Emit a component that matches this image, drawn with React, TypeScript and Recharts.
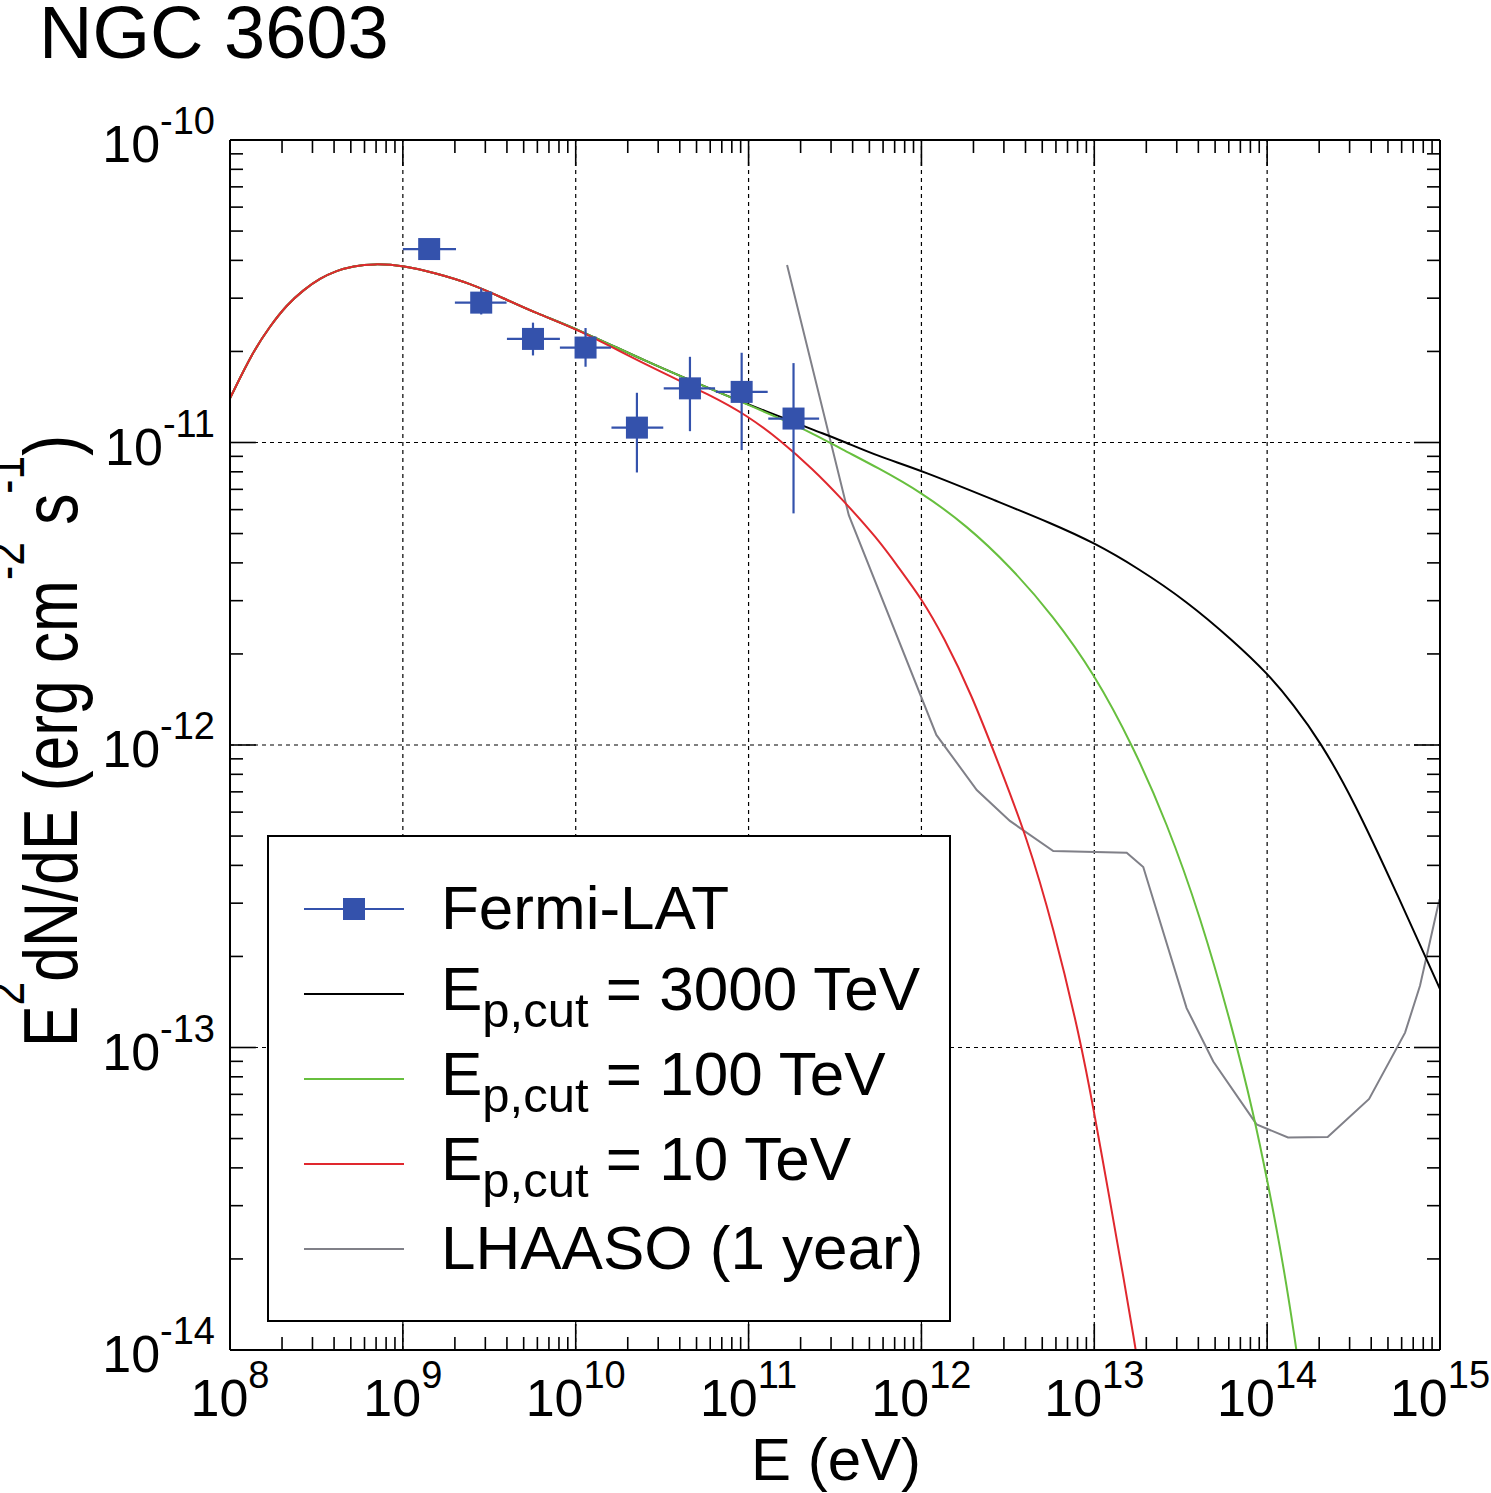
import React from 'react';
import {
  ComposedChart,
  Line,
  Scatter,
  XAxis,
  YAxis,
  ErrorBar,
  ReferenceLine,
  Legend,
} from 'recharts';

const FONT = "'Liberation Sans', Arial, Helvetica, sans-serif";
const BLUE = '#3452AC';
const GREEN = '#67BF3E';
const RED = '#E0282E';
const GRAY = '#808088';

// ---------------- Fermi-LAT points ----------------
const fermiE = [1.42e9, 2.84e9, 5.66e9, 1.14e10, 2.26e10, 4.58e10, 9.12e10, 1.82e11];
const fermiEMin = [1.0e9, 2.0e9, 4.0e9, 8.1e9, 1.61e10, 3.23e10, 6.46e10, 1.3e11];
const fermiEMax = [2.03e9, 3.98e9, 8.1e9, 1.6e10, 3.21e10, 6.4e10, 1.29e11, 2.56e11];
const fermiFlux = [4.36e-11, 2.9e-11, 2.2e-11, 2.06e-11, 1.12e-11, 1.51e-11, 1.47e-11, 1.2e-11];
const fermiFluxMin = [4.15e-11, 2.65e-11, 1.94e-11, 1.78e-11, 7.96e-12, 1.09e-11, 9.44e-12, 5.83e-12];
const fermiFluxMax = [4.55e-11, 3.23e-11, 2.49e-11, 2.39e-11, 1.46e-11, 1.92e-11, 1.98e-11, 1.83e-11];

// ---------------- model curves: shared low-energy part ----------------
const modelLowE = [1.0e8, 1.36e8, 1.7e8, 2.13e8, 2.65e8, 3.32e8, 4.14e8, 5.16e8, 6.75e8, 1.01e9, 1.57e9, 2.44e9, 3.81e9, 5.94e9, 1.01e10];
const modelLowFlux = [1.4e-11, 2.0e-11, 2.42e-11, 2.85e-11, 3.19e-11, 3.49e-11, 3.7e-11, 3.83e-11, 3.9e-11, 3.85e-11, 3.62e-11, 3.36e-11, 3.0e-11, 2.67e-11, 2.38e-11];

// E_p,cut = 3000 TeV
const cut3000E = [2.57e10, 6.25e10, 9.75e10, 1.52e11, 2.37e11, 3.38e11, 5.62e11, 1.0e12, 2.84e12, 5.62e12, 1.0e13, 1.78e13, 3.42e13, 6.37e13, 1.01e14, 1.42e14, 2.02e14, 3.16e14, 5.62e14, 1.0e15];
const cut3000Flux = [1.85e-11, 1.49e-11, 1.34e-11, 1.22e-11, 1.1e-11, 1.02e-11, 9.0e-12, 8.09e-12, 6.34e-12, 5.41e-12, 4.66e-12, 3.85e-12, 2.99e-12, 2.21e-12, 1.72e-12, 1.36e-12, 1.03e-12, 6.58e-13, 3.24e-13, 1.56e-13];

// E_p,cut = 100 TeV
const cut100E = [2.57e10, 6.25e10, 9.75e10, 1.52e11, 2.37e11, 3.38e11, 5.62e11, 1.0e12, 1.83e12, 3.25e12, 5.79e12, 1.0e13, 1.68e13, 2.62e13, 4.09e13, 6.37e13, 8.32e13, 1.01e14, 1.24e14, 1.45e14, 1.51e14];
const cut100Flux = [1.85e-11, 1.49e-11, 1.34e-11, 1.2e-11, 1.07e-11, 9.57e-12, 8.24e-12, 6.84e-12, 5.31e-12, 3.9e-12, 2.67e-12, 1.72e-12, 9.89e-13, 5.56e-13, 2.74e-13, 1.13e-13, 6.08e-14, 3.57e-14, 1.92e-14, 1.08e-14, 9.1e-15];

// E_p,cut = 10 TeV
const cut10E = [2.57e10, 6.25e10, 9.75e10, 1.52e11, 2.37e11, 3.38e11, 5.62e11, 7.52e11, 1.0e12, 1.34e12, 1.95e12, 2.84e12, 4.06e12, 5.79e12, 8.26e12, 1.0e13, 1.23e13, 1.47e13, 1.72e13, 1.78e13];
const cut10Flux = [1.8e-11, 1.42e-11, 1.23e-11, 1.02e-11, 8.13e-12, 6.61e-12, 4.79e-12, 3.8e-12, 3.05e-12, 2.29e-12, 1.47e-12, 8.47e-13, 4.98e-13, 2.51e-13, 1.08e-13, 6.08e-14, 3.13e-14, 1.76e-14, 1.04e-14, 9.1e-15];

// LHAASO (1 year) sensitivity
const lhaasoE = [1.67e11, 3.8e11, 1.22e12, 2.09e12, 3.25e12, 5.79e12, 1.54e13, 1.92e13, 3.42e13, 4.88e13, 8.69e13, 1.32e14, 2.24e14, 3.89e14, 6.28e14, 7.66e14, 9.93e14];
const lhaasoFlux = [3.86e-11, 5.75e-12, 1.08e-12, 7.1e-13, 5.61e-13, 4.46e-13, 4.4e-13, 3.95e-13, 1.35e-13, 8.99e-14, 5.57e-14, 5.04e-14, 5.06e-14, 6.76e-14, 1.12e-13, 1.6e-13, 3.09e-13];

// ---------------- axes ----------------
const xMajorTicks = [1e8, 1e9, 1e10, 1e11, 1e12, 1e13, 1e14, 1e15];
const yMajorTicks = [1e-14, 1e-13, 1e-12, 1e-11, 1e-10];
const xGridValues = [1e9, 1e10, 1e11, 1e12, 1e13, 1e14];
const yGridValues = [1e-13, 1e-12, 1e-11];
const minorMultipliers = [2, 3, 4, 5, 6, 7, 8, 9];

const withMinor = (majors: number[]) => {
  const out: number[] = [];
  majors.forEach((m, i) => {
    out.push(m);
    if (i < majors.length - 1) minorMultipliers.forEach((k) => out.push(k * m));
  });
  return out;
};
const xTicks = withMinor(xMajorTicks);
const yTicks = withMinor(yMajorTicks);

const isMajor = (v: number) => {
  const lg = Math.log10(v);
  return Math.abs(lg - Math.round(lg)) < 1e-6;
};
const expOf = (v: number) => Math.round(Math.log10(v));

// ---------------- tables built from the arrays ----------------
const zip = (xs: number[], ys: number[]) => xs.map((x, i) => ({ x, y: ys[i] }));
const lowPart = zip(modelLowE, modelLowFlux);
const data3000 = [...lowPart, ...zip(cut3000E, cut3000Flux)];
const data100 = [...lowPart, ...zip(cut100E, cut100Flux)];
const data10 = [...lowPart, ...zip(cut10E, cut10Flux)];
const dataLhaaso = zip(lhaasoE, lhaasoFlux);
const dataFermi = fermiE.map((e, i) => ({
  x: e,
  y: fermiFlux[i],
  ex: [e - fermiEMin[i], fermiEMax[i] - e],
  ey: [fermiFlux[i] - fermiFluxMin[i], fermiFluxMax[i] - fermiFlux[i]],
}));

// ---------------- tick renderers ----------------
const MAJ = 26;
const MIN = 13;

const XTickBottom = (p: any) => {
  const { x, y, payload } = p;
  const v = payload.value;
  const major = isMajor(v);
  return (
    <g>
      <line x1={x} x2={x} y1={y} y2={y - (major ? MAJ : MIN)} stroke="#000" strokeWidth={1.6} />
      {major && (
        <text x={x} y={y + 66} textAnchor="middle" fontFamily={FONT} fontSize={52} fill="#000">
          10
          <tspan fontSize={38} dy={-28}>{expOf(v)}</tspan>
        </text>
      )}
    </g>
  );
};

const XTickTop = (p: any) => {
  const { x, y, payload } = p;
  const major = isMajor(payload.value);
  return <line x1={x} x2={x} y1={y} y2={y + (major ? MAJ : MIN)} stroke="#000" strokeWidth={1.6} />;
};

const YTickLeft = (p: any) => {
  const { x, y, payload } = p;
  const v = payload.value;
  const major = isMajor(v);
  return (
    <g>
      <line x1={x} x2={x + (major ? MAJ : MIN)} y1={y} y2={y} stroke="#000" strokeWidth={1.6} />
      {major && (
        <text x={x - 15} y={y + 22} textAnchor="end" fontFamily={FONT} fontSize={52} fill="#000">
          10
          <tspan fontSize={38} dy={-28}>{String(expOf(v))}</tspan>
        </text>
      )}
    </g>
  );
};

const YTickRight = (p: any) => {
  const { x, y, payload } = p;
  const major = isMajor(payload.value);
  return <line x1={x} x2={x - (major ? MAJ : MIN)} y1={y} y2={y} stroke="#000" strokeWidth={1.6} />;
};

// ---------------- labels ----------------
const renderTitle = () => (
  <text x={39} y={58} fontFamily={FONT} fontSize={74} fill="#000">
    NGC 3603
  </text>
);

const renderXLabel = () => (
  <text x={836} y={1480} textAnchor="middle" fontFamily={FONT} fontSize={60} fill="#000">
    E (eV)
  </text>
);

const renderYLabel = () => (
  <text
    transform="translate(77 741) rotate(-90) scale(0.82 1)"
    textAnchor="middle"
    fontFamily={FONT}
    fontSize={76}
    fill="#000"
  >
    E
    <tspan fontSize={52} dy={-53}>2</tspan>
    <tspan dy={53}>dN/dE (erg cm</tspan>
    <tspan fontSize={52} dy={-53}>-2</tspan>
    <tspan dy={53}>{' s'}</tspan>
    <tspan fontSize={52} dy={-53}>-1</tspan>
    <tspan dy={53}>)</tspan>
  </text>
);

// ---------------- legend ----------------
const LEG_W = 684;
const LEG_H = 487;
const legendRows = [
  { kind: 'fermi', color: BLUE, label: 'Fermi-LAT', cut: '' },
  { kind: 'line', color: '#000', label: '', cut: '3000 TeV' },
  { kind: 'line', color: GREEN, label: '', cut: '100 TeV' },
  { kind: 'line', color: RED, label: '', cut: '10 TeV' },
  { kind: 'line', color: GRAY, label: 'LHAASO (1 year)', cut: '' },
];
const rowY = [74, 159, 244, 329, 414];

const renderLegend = () => (
  <svg width={LEG_W} height={LEG_H} style={{ display: 'block' }}>
    <rect x={1} y={1} width={LEG_W - 2} height={LEG_H - 2} fill="#fff" stroke="#000" strokeWidth={2} />
    {legendRows.map((r, i) => {
      const cy = rowY[i];
      return (
        <g key={i}>
          <line x1={37} x2={137} y1={cy} y2={cy} stroke={r.color} strokeWidth={2.2} />
          {r.kind === 'fermi' && <rect x={76} y={cy - 11} width={22} height={22} fill={BLUE} />}
          {r.cut ? (
            <text x={174} y={cy + 16} fontFamily={FONT} fontSize={62} fill="#000" style={{ whiteSpace: 'pre' }}>
              E
              <tspan fontSize={49} dy={17}>p,cut</tspan>
              <tspan dy={-17}>{' = ' + r.cut}</tspan>
            </text>
          ) : (
            <text x={174} y={cy + 20} fontFamily={FONT} fontSize={62} fill="#000">
              {r.label}
            </text>
          )}
        </g>
      );
    })}
  </svg>
);

const FermiSquare = (p: any) => (
  <rect x={p.cx - 11} y={p.cy - 11} width={22} height={22} fill={BLUE} />
);

export default function App() {
  return (
    <div style={{ position: 'absolute', left: 0, top: 0, width: 1491, height: 1493, background: '#fff' }}>
      <ComposedChart width={1491} height={1493} margin={{ top: 130, right: 41, bottom: 0, left: 0 }}>
        <XAxis
          xAxisId="b"
          dataKey="x"
          type="number"
          scale="log"
          domain={[1e8, 1e15]}
          allowDataOverflow
          ticks={xTicks}
          interval={0}
          tick={XTickBottom}
          tickLine={false}
          tickSize={0}
          tickMargin={0}
          axisLine={{ stroke: '#000', strokeWidth: 2 }}
          height={143}
          orientation="bottom"
          label={renderXLabel}
        />
        <XAxis
          xAxisId="t"
          dataKey="x"
          type="number"
          scale="log"
          domain={[1e8, 1e15]}
          allowDataOverflow
          ticks={xTicks}
          interval={0}
          tick={XTickTop}
          tickLine={false}
          tickSize={0}
          tickMargin={0}
          axisLine={{ stroke: '#000', strokeWidth: 2 }}
          height={10}
          orientation="top"
          label={renderTitle}
        />
        <YAxis
          yAxisId="l"
          dataKey="y"
          type="number"
          scale="log"
          domain={[1e-14, 1e-10]}
          allowDataOverflow
          ticks={yTicks}
          interval={0}
          tick={YTickLeft}
          tickLine={false}
          tickSize={0}
          tickMargin={0}
          axisLine={{ stroke: '#000', strokeWidth: 2 }}
          width={230}
          orientation="left"
          label={renderYLabel}
        />
        <YAxis
          yAxisId="r"
          dataKey="y"
          type="number"
          scale="log"
          domain={[1e-14, 1e-10]}
          allowDataOverflow
          ticks={yTicks}
          interval={0}
          tick={YTickRight}
          tickLine={false}
          tickSize={0}
          tickMargin={0}
          axisLine={{ stroke: '#000', strokeWidth: 2 }}
          width={10}
          orientation="right"
        />

        {xGridValues.map((v) => (
          <ReferenceLine
            key={'gx' + v}
            xAxisId="b"
            yAxisId="l"
            x={v}
            stroke="#000"
            strokeWidth={1.2}
            strokeDasharray="4 4"
          />
        ))}
        {yGridValues.map((v) => (
          <ReferenceLine
            key={'gy' + v}
            xAxisId="b"
            yAxisId="l"
            y={v}
            stroke="#000"
            strokeWidth={1.2}
            strokeDasharray="4 4"
          />
        ))}

        <Line
          xAxisId="b"
          yAxisId="l"
          data={dataLhaaso}
          dataKey="y"
          type="linear"
          stroke={GRAY}
          strokeWidth={2}
          dot={false}
          activeDot={false}
          isAnimationActive={false}
        />
        <Line
          xAxisId="b"
          yAxisId="l"
          data={data3000}
          dataKey="y"
          type="basis"
          stroke="#000"
          strokeWidth={2}
          dot={false}
          activeDot={false}
          isAnimationActive={false}
        />
        <Line
          xAxisId="b"
          yAxisId="l"
          data={data100}
          dataKey="y"
          type="basis"
          stroke={GREEN}
          strokeWidth={2}
          dot={false}
          activeDot={false}
          isAnimationActive={false}
        />
        <Line
          xAxisId="b"
          yAxisId="l"
          data={data10}
          dataKey="y"
          type="basis"
          stroke={RED}
          strokeWidth={2}
          dot={false}
          activeDot={false}
          isAnimationActive={false}
        />
        <Scatter
          xAxisId="b"
          yAxisId="l"
          data={dataFermi}
          dataKey="y"
          fill={BLUE}
          shape={FermiSquare}
          isAnimationActive={false}
        >
          <ErrorBar dataKey="ex" direction="x" width={0} stroke={BLUE} strokeWidth={2.2} isAnimationActive={false} />
          <ErrorBar dataKey="ey" direction="y" width={0} stroke={BLUE} strokeWidth={2.2} isAnimationActive={false} />
        </Scatter>

        <Legend
          content={renderLegend}
          layout="horizontal"
          verticalAlign="middle"
          align="center"
          width={LEG_W}
          height={LEG_H}
          wrapperStyle={{ left: 267, top: 835, width: LEG_W, height: LEG_H }}
        />
      </ComposedChart>
    </div>
  );
}
